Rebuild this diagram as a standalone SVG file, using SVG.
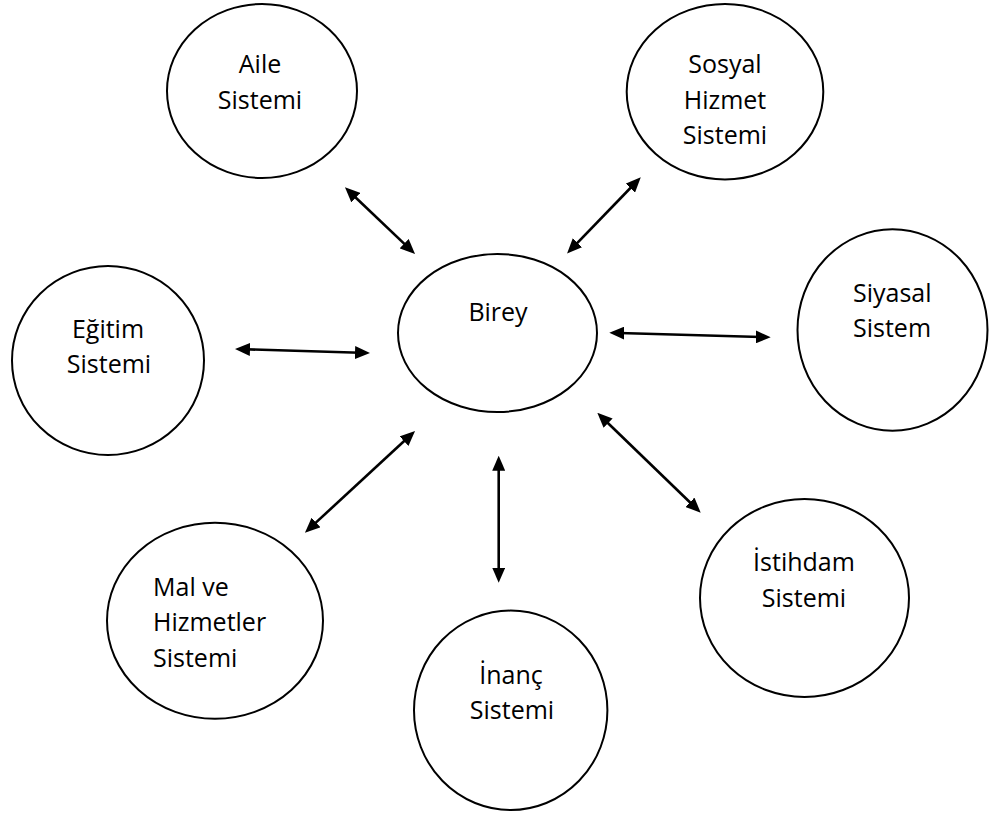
<svg xmlns="http://www.w3.org/2000/svg" width="989" height="814" viewBox="0 0 989 814">
<defs>
<marker id="ah" markerUnits="userSpaceOnUse" markerWidth="15" markerHeight="13" refX="5" refY="6.5" orient="auto-start-reverse">
<path d="M0,0 L15,6.5 L0,13 z" fill="#000"/>
</marker>
<style>
.n ellipse{fill:#fff;stroke:#000;stroke-width:2}
.n text{font-family:"Open Sans","Noto Sans","Liberation Sans",sans-serif;font-size:25px;fill:#000}
.c{text-anchor:middle}
#connectors line{stroke:#000;stroke-width:2.6;marker-start:url(#ah);marker-end:url(#ah)}
</style>
</defs>
<rect width="989" height="814" fill="#fff"/>
<g id="aile" class="n">
<ellipse cx="262" cy="91" rx="95" ry="87"/>
<text class="c" x="260" y="73">Aile</text>
<text class="c" x="260" y="109">Sistemi</text>
</g>
<g id="sosyal" class="n">
<ellipse cx="725" cy="91.7" rx="98.3" ry="87.7"/>
<text class="c" x="725" y="72.7">Sosyal</text>
<text class="c" x="725" y="108.7">Hizmet</text>
<text class="c" x="725" y="144.3">Sistemi</text>
</g>
<g id="birey" class="n">
<ellipse cx="497.5" cy="333" rx="99.5" ry="79"/>
<text class="c" x="498" y="320.7">Birey</text>
</g>
<g id="egitim" class="n">
<ellipse cx="108" cy="360.5" rx="96" ry="94.5"/>
<text class="c" x="108" y="337.7">Eğitim</text>
<text class="c" x="109" y="373">Sistemi</text>
</g>
<g id="siyasal" class="n">
<ellipse cx="892.5" cy="330" rx="95" ry="100.7"/>
<text x="853" y="301.7">Siyasal</text>
<text x="853" y="337.3">Sistem</text>
</g>
<g id="mal" class="n">
<ellipse cx="215" cy="620.7" rx="108" ry="98"/>
<text x="153" y="595.7">Mal ve</text>
<text x="153" y="631">Hizmetler</text>
<text x="153" y="666.7">Sistemi</text>
</g>
<g id="inanc" class="n">
<ellipse cx="510.7" cy="710.3" rx="96.7" ry="99.7"/>
<text class="c" x="511" y="684.3">İnanç</text>
<text class="c" x="512" y="719">Sistemi</text>
</g>
<g id="istihdam" class="n">
<ellipse cx="804.5" cy="598" rx="104.5" ry="99"/>
<text class="c" x="804" y="570.7">İstihdam</text>
<text class="c" x="804" y="606.7">Sistemi</text>
</g>
<g id="connectors">
<line x1="352.2" y1="194.2" x2="407.8" y2="247.1"/>
<line x1="633.8" y1="184.5" x2="574.0" y2="246.3"/>
<line x1="245" y1="349.3" x2="360" y2="352.7"/>
<line x1="619.3" y1="333" x2="760.7" y2="337"/>
<line x1="407.7" y1="437.8" x2="312.3" y2="525.9"/>
<line x1="498.7" y1="465.7" x2="498.7" y2="572.7"/>
<line x1="604.5" y1="419.7" x2="693.5" y2="505.7"/>
</g>
</svg>
